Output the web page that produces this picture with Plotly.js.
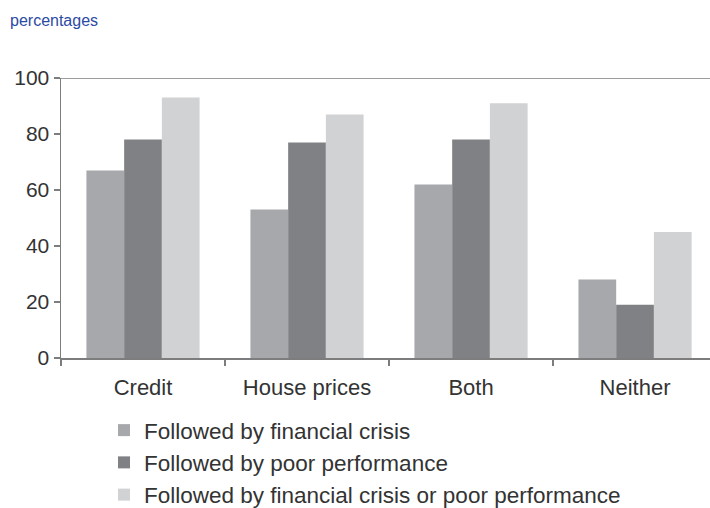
<!DOCTYPE html>
<html>
<head>
<meta charset="utf-8">
<script src="https://cdn.plot.ly/plotly-3.0.1.min.js"></script>
<style>html,body{margin:0;padding:0;background:#fff;}#chart{width:710px;height:508px;}</style>
</head>
<body>
<div id="chart"></div>
<script>
var categories = ["Credit", "House prices", "Both", "Neither"];
var seriesNames = ["Followed by financial crisis", "Followed by poor performance", "Followed by financial crisis or poor performance"];
var crisis = [67, 53, 62, 28];
var poorPerformance = [78, 77, 78, 19];
var crisisOrPoor = [93, 87, 91, 45];
var yTicks = [0, 20, 40, 60, 80, 100];

var colors = ["#a7a8ab", "#808184", "#d1d2d4"];
var values = [crisis, poorPerformance, crisisOrPoor];

var traces = values.map(function (v, i) {
  return {
    type: "bar",
    name: seriesNames[i],
    x: categories,
    y: v,
    marker: { color: colors[i], line: { width: 0 } },
    hoverinfo: "x+y"
  };
});

var layout = {
  width: 710,
  height: 508,
  margin: { l: 61, r: 0, t: 78, b: 150, autoexpand: false },
  paper_bgcolor: "#fff",
  plot_bgcolor: "#fff",
  font: { family: "Liberation Sans, Arial, sans-serif", color: "#333333" },
  barmode: "group",
  bargap: 0.31,
  bargroupgap: 0,
  title: {
    text: "percentages",
    x: 10 / 710, xref: "container", xanchor: "left",
    y: 1 - 20 / 508, yref: "container", yanchor: "middle",
    font: { size: 16, color: "#2b4aa3", family: "Liberation Sans, Arial, sans-serif" }
  },
  xaxis: {
    type: "category",
    range: [-0.5, 3.457],
    showline: true, linecolor: "#7d7d7d", linewidth: 1.5,
    ticks: "outside", tickson: "boundaries", ticklen: 6, tickcolor: "#7d7d7d", tickwidth: 1.5,
    showgrid: false, zeroline: false,
    tickangle: 0,
    ticklabelstandoff: 9,
    tickfont: { size: 22, color: "#333333" },
    fixedrange: true
  },
  yaxis: {
    range: [0, 100],
    tickvals: yTicks,
    showline: true, linecolor: "#7d7d7d", linewidth: 1.5,
    ticks: "outside", ticklen: 6, tickcolor: "#7d7d7d", tickwidth: 1.5,
    showgrid: false, zeroline: false,
    tickfont: { size: 21, color: "#333333" },
    fixedrange: true
  },
  shapes: [{
    type: "line", xref: "paper", yref: "y",
    x0: 0, x1: 1, y0: 100, y1: 100,
    line: { color: "#7d7d7d", width: 1.5 }
  }],
  showlegend: true,
  legend: {
    orientation: "v",
    xref: "paper", yref: "paper",
    x: (104 - 61) / 649, xanchor: "left",
    y: -(409 - 358) / 280, yanchor: "top",
    font: { size: 22.5, color: "#333333" },
    itemwidth: 30,
    bgcolor: "rgba(0,0,0,0)"
  }
};

Plotly.newPlot("chart", traces, layout, { displayModeBar: false, staticPlot: true });
</script>
</body>
</html>
